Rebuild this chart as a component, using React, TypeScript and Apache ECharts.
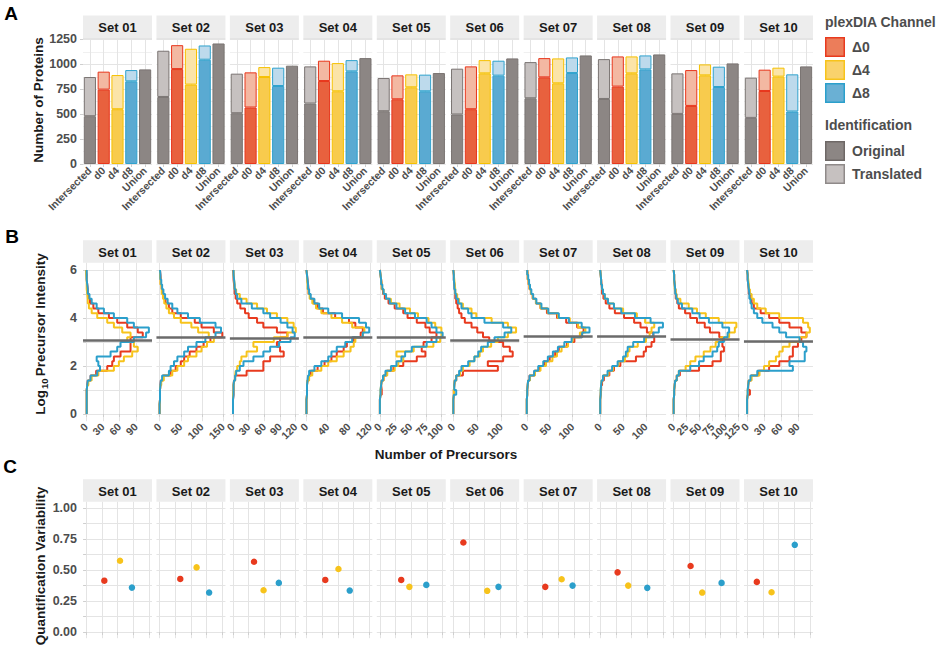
import React, { useEffect, useRef } from 'react';
import * as echarts from 'echarts';

const FONT = '"Liberation Sans", Arial, Helvetica, sans-serif';

// ---------- Panel A: number of proteins ----------
const setNames = ['Set 01', 'Set 02', 'Set 03', 'Set 04', 'Set 05', 'Set 06', 'Set 07', 'Set 08', 'Set 09', 'Set 10'];
const protCategories = ['Intersected', 'd0', 'd4', 'd8', 'Union'];
const intersectedTotal = [873, 1137, 907, 980, 863, 957, 1023, 1053, 910, 867];
const intersectedOrig = [480, 673, 510, 607, 530, 497, 660, 653, 503, 463];
const d0Total = [927, 1193, 920, 1037, 890, 980, 1063, 1080, 943, 947];
const d0Orig = [747, 953, 567, 833, 650, 550, 870, 777, 583, 733];
const d4Total = [893, 1157, 973, 1013, 900, 1043, 1060, 1080, 1000, 967];
const d4Orig = [550, 797, 873, 730, 770, 910, 810, 910, 890, 877];
const d8Total = [943, 1190, 967, 1043, 897, 1037, 1070, 1090, 977, 900];
const d8Orig = [830, 1047, 783, 930, 730, 887, 913, 950, 773, 527];
const unionTotal = [950, 1210, 987, 1063, 913, 1060, 1090, 1100, 1010, 980];

// ---------- Panel B: precursor intensity histograms (bins of 0.2 log10 units from 0) ----------
const BIN_W = 0.2;
const histD0 = [
  [1,1,1,1,1,2,3,8,18,38,47,50,62,80,80,80,102,93,74,56,41,22,13,7,5,3,2,1,1,0],
  [0,0,1,1,1,2,3,8,26,38,50,58,71,87,104,120,148,128,99,83,50,30,22,14,9,7,5,3,2,1],
  [0,0,0,1,1,1,2,4,26,58,58,71,97,90,84,90,104,84,58,46,30,23,14,8,5,3,2,1,1,0],
  [0,0,0,1,1,1,2,4,8,21,34,47,57,70,76,89,102,106,92,80,54,31,21,13,7,4,3,2,1,0],
  [0,0,0,1,3,2,3,6,11,22,38,60,74,68,71,84,92,81,74,60,45,38,24,14,8,5,3,2,1,0],
  [0,0,0,1,1,2,3,6,20,93,72,104,124,118,104,75,62,50,38,24,17,12,9,6,4,3,2,1,1,0],
  [0,0,0,1,1,2,3,6,17,28,38,50,62,70,88,104,120,124,110,86,66,44,30,20,13,9,6,4,2,1],
  [0,0,0,1,2,2,4,8,20,30,44,78,95,100,112,118,116,102,88,74,52,32,20,12,7,4,3,2,1,0],
  [0,0,0,1,1,2,3,6,12,49,75,91,91,97,94,94,88,70,60,45,32,22,10,7,4,3,2,1,1,0],
  [0,0,0,1,5,2,3,7,20,39,57,75,81,81,90,96,105,96,75,57,39,24,12,8,5,3,2,1,1,0],
];
const histD4 = [
  [1,1,1,1,1,2,4,10,22,50,59,68,83,93,86,74,80,65,50,38,20,10,5,3,2,1,1,1,0,0],
  [0,0,1,1,1,2,4,10,30,42,58,67,87,99,112,128,116,91,75,50,34,22,16,11,8,5,4,2,1,1],
  [0,0,0,0,1,1,2,4,5,8,13,16,26,46,39,78,104,120,116,104,84,65,46,26,13,6,3,2,1,1],
  [0,0,0,1,1,1,2,5,11,28,41,57,70,83,89,92,106,109,86,67,47,28,18,11,6,4,2,1,1,0],
  [0,0,0,1,1,2,3,6,12,24,30,38,27,55,87,98,100,100,90,79,62,49,32,18,10,6,3,2,1,0],
  [0,0,0,1,1,2,3,6,14,20,34,44,55,62,79,93,114,131,114,80,48,38,20,12,8,4,3,2,1,0],
  [0,0,0,1,1,2,3,7,18,30,42,56,66,76,90,100,116,128,112,94,68,46,30,20,13,9,6,4,2,1],
  [0,0,0,1,1,2,3,6,18,28,40,54,60,64,82,100,108,112,118,98,80,50,30,17,10,6,4,2,1,0],
  [0,0,0,1,1,2,3,6,10,23,32,42,58,71,81,91,107,118,121,87,62,45,29,13,6,4,2,1,1,0],
  [0,0,0,1,1,2,3,8,22,30,39,51,57,63,75,93,105,111,108,99,57,33,18,12,8,5,3,2,1,0],
];
const histD8 = [
  [1,1,1,1,1,2,3,8,20,25,22,19,44,56,62,86,108,113,86,74,50,32,19,10,6,3,2,1,1,1],
  [0,0,1,1,1,2,3,6,22,26,34,42,58,67,87,108,132,145,132,95,67,42,30,19,13,9,6,4,2,1],
  [0,0,0,1,1,1,2,4,6,13,20,39,58,71,88,110,118,114,104,91,71,58,36,16,8,5,3,2,1,1],
  [0,0,0,1,1,1,2,3,5,15,28,41,47,57,73,86,106,118,112,99,67,41,24,15,8,5,3,2,1,0],
  [0,0,0,1,1,2,3,5,9,18,27,35,41,52,76,92,102,92,84,76,57,41,27,16,10,6,4,2,1,0],
  [0,0,0,1,6,2,3,6,12,17,31,44,52,58,72,86,107,121,104,65,38,31,17,10,6,4,2,1,1,0],
  [0,0,0,1,1,2,3,6,16,25,36,46,57,68,82,98,121,137,120,92,70,47,32,21,14,10,7,5,3,1],
  [0,0,0,1,1,2,3,6,16,26,38,50,56,60,72,96,116,128,137,110,76,46,30,17,10,6,4,2,1,0],
  [0,0,0,1,1,2,3,6,10,32,49,58,75,84,87,97,104,107,94,68,50,36,16,8,5,3,2,1,1,0],
  [0,0,0,1,1,2,3,6,18,81,75,102,102,105,99,93,69,57,45,27,18,12,8,6,4,3,2,1,1,0],
];
const medianLog10 = [3.08, 3.18, 3.15, 3.18, 3.18, 3.08, 3.25, 3.22, 3.11, 3.04];
const precursorTicks = [
  [0, 30, 60, 90], [0, 50, 100, 150], [0, 30, 60, 90, 120], [0, 40, 80, 120], [0, 25, 50, 75, 100],
  [0, 50, 100], [0, 50, 100], [0, 50, 100], [0, 25, 50, 75, 100, 125], [0, 30, 60, 90],
];
const intensityTicks = [0, 2, 4, 6];
const intensityGrid = [0, 1, 2, 3, 4, 5, 6];

// ---------- Panel C: quantification variability ----------
const cvD0X = [0.29, 0.33, 0.335, 0.30, 0.34, 0.16, 0.295, 0.277, 0.27, 0.155];
const cvD0 = [0.414, 0.428, 0.567, 0.42, 0.42, 0.722, 0.364, 0.481, 0.532, 0.404];
const cvD4X = [0.54, 0.59, 0.487, 0.51, 0.47, 0.54, 0.556, 0.446, 0.455, 0.39];
const cvD4 = [0.575, 0.521, 0.337, 0.508, 0.364, 0.332, 0.425, 0.374, 0.318, 0.321];
const cvD8X = [0.73, 0.79, 0.73, 0.69, 0.74, 0.72, 0.73, 0.75, 0.764, 0.76];
const cvD8 = [0.358, 0.318, 0.396, 0.334, 0.38, 0.364, 0.374, 0.356, 0.396, 0.703];
const cvTicks = [0, 0.25, 0.5, 0.75, 1];
const cvGrid = [0, 0.125, 0.25, 0.375, 0.5, 0.625, 0.75, 0.875, 1];
const cvXGrid = [0, 0.25, 0.5, 0.75, 1];

// ---------- styling ----------
const RED = '#E83A1E';
const YEL = '#F7C31B';
const BLU = '#2B9FCB';
const catFillOrig = ['#8C8684', '#E8613E', '#F8CB4D', '#5AAAD2', '#8C8684'];
const catFillTrans = ['#C6C1C0', '#F3B8A2', '#FBE4A8', '#BDDAEC', '#C6C1C0'];
const catBorder = ['#7A7472', '#E8361C', '#F6C100', '#2FA2CD', '#7A7472'];
const GRID_COL = '#E4E4E4';
const MINOR_COL = '#F0F0F0';
const LABEL_COL = '#4D4D4D';
const TITLE_COL = '#1A1A1A';
const STRIP_FILL = '#EDEDED';

const L0 = 83;
const PITCH = 73.44;
const PW = 69;
const STRIP_H = 22.5;
const A_TOP = 38, A_H = 126;
const B_TOP = 262.8, B_H = 158.4;
const C_TOP = 501.8, C_H = 136.4;

function stepPoints(counts: number[]) {
  const pts: number[][] = [];
  counts.forEach((c, i) => {
    pts.push([c, i * BIN_W]);
    pts.push([c, (i + 1) * BIN_W]);
  });
  return pts;
}

function txt(text: string, x: number, y: number, size: number, opts: any = {}) {
  return {
    type: 'text',
    x, y,
    rotation: opts.rotation || 0,
    silent: true,
    style: {
      text,
      fill: opts.fill || TITLE_COL,
      fontSize: size,
      fontWeight: opts.weight || 'bold',
      fontFamily: FONT,
      align: opts.align || 'center',
      verticalAlign: 'middle',
      rich: opts.rich,
    },
  };
}

function buildOption() {
  const grid: any[] = [];
  const xAxis: any[] = [];
  const yAxis: any[] = [];
  const series: any[] = [];
  const graphic: any[] = [];

  const lbl = { color: LABEL_COL, fontWeight: 'bold', fontFamily: FONT, hideOverlap: false };
  const split = { show: true, lineStyle: { color: GRID_COL, width: 1 } };
  const tick = { length: 3, lineStyle: { color: '#CFCFCF' } };

  const strip = (left: number, top: number, name: string) => {
    graphic.push({ type: 'rect', silent: true, shape: { x: left, y: top - STRIP_H, width: PW, height: STRIP_H }, style: { fill: STRIP_FILL } });
    graphic.push(txt(name, left + PW / 2, top - STRIP_H / 2 + 0.5, 13));
  };

  const totals = [intersectedTotal, d0Total, d4Total, d8Total, unionTotal];
  const origs = [intersectedOrig, d0Orig, d4Orig, d8Orig, unionTotal];

  for (let k = 0; k < 10; k++) {
    const left = L0 + PITCH * k;

    // ---- A ----
    let gi = grid.length;
    let xi = xAxis.length;
    let yi = yAxis.length;
    grid.push({ left, top: A_TOP, width: PW, height: A_H });
    xAxis.push({
      type: 'category', gridIndex: gi, data: protCategories,
      axisLine: { show: false },
      axisTick: { show: true, alignWithLabel: true, ...tick },
      axisLabel: { ...lbl, rotate: 45, fontSize: 10.5, margin: 5, interval: 0 },
      splitLine: { ...split, alignWithLabel: true, interval: 0 },
    });
    yAxis.push({
      type: 'value', gridIndex: gi, min: 0, max: 1265, interval: 250,
      axisLine: { show: false },
      axisTick: { show: k === 0, ...tick },
      axisLabel: { show: k === 0, ...lbl, fontSize: 12.5, margin: 6, showMaxLabel: false, formatter: (v: number) => String(v) },
      splitLine: split,
      minorTick: { show: false, splitNumber: 2 },
      minorSplitLine: { show: true, lineStyle: { color: MINOR_COL } },
    });
    series.push({
      type: 'bar', name: 'Original', xAxisIndex: xi, yAxisIndex: yi, stack: 'p' + k, barWidth: '88%',
      data: protCategories.map((_, c) => ({
        value: origs[c][k],
        itemStyle: { color: catFillOrig[c], borderColor: catBorder[c], borderWidth: 1 },
      })),
    });
    series.push({
      type: 'bar', name: 'Translated', xAxisIndex: xi, yAxisIndex: yi, stack: 'p' + k, barWidth: '88%',
      data: protCategories.map((_, c) => ({
        value: totals[c][k] - origs[c][k],
        itemStyle: { color: catFillTrans[c], borderColor: catBorder[c], borderWidth: c === 4 ? 0 : 1 },
      })),
    });
    strip(left, A_TOP, setNames[k]);

    // ---- B ----
    gi = grid.length;
    xi = xAxis.length;
    yi = yAxis.length;
    grid.push({ left, top: B_TOP, width: PW, height: B_H });
    const M = Math.max(...histD0[k], ...histD4[k], ...histD8[k]);
    const ticksK = precursorTicks[k];
    const evenTicks = ticksK.filter((_, i) => i % 2 === 0);
    const oddTicks = ticksK.filter((_, i) => i % 2 === 1);
    xAxis.push({
      type: 'value', gridIndex: gi, min: -0.05 * M, max: 1.05 * M, position: 'bottom',
      axisLine: { show: false },
      axisTick: { show: true, customValues: ticksK, ...tick },
      axisLabel: {
        ...lbl, customValues: evenTicks, rotate: 45, fontSize: 10.5, margin: 4,
        showMinLabel: true, showMaxLabel: true,
      },
      splitLine: split,
    });
    xAxis.push({
      type: 'value', gridIndex: gi, min: -0.05 * M, max: 1.05 * M, position: 'bottom', offset: 0,
      axisLine: { show: false },
      axisTick: { show: false, customValues: oddTicks },
      axisLabel: {
        ...lbl, customValues: oddTicks, rotate: 45, fontSize: 10.5, margin: 4,
        showMinLabel: true, showMaxLabel: true,
      },
      splitLine: { show: false },
    });
    yAxis.push({
      type: 'value', gridIndex: gi, min: -0.3, max: 6.3,
      axisLine: { show: false },
      axisTick: { show: k === 0, customValues: intensityGrid, ...tick },
      axisLabel: { show: k === 0, customValues: intensityTicks, ...lbl, fontSize: 12.5, margin: 6 },
      splitLine: split,
    });
    const chans: [number[][], string][] = [[histD0, RED], [histD4, YEL], [histD8, BLU]];
    chans.forEach(([h, col], ci) => {
      series.push({
        type: 'line', xAxisIndex: xi, yAxisIndex: yi, data: stepPoints(h[k]),
        showSymbol: false, symbol: 'none', silent: true,
        lineStyle: { color: col, width: 2 },
        markLine: ci === 2 ? {
          silent: true, symbol: ['none', 'none'], label: { show: false },
          lineStyle: { color: '#6B6B6B', width: 2.5, type: 'solid' },
          data: [{ yAxis: medianLog10[k] }],
        } : undefined,
      });
    });
    strip(left, B_TOP, setNames[k]);

    // ---- C ----
    gi = grid.length;
    xi = xAxis.length;
    yi = yAxis.length;
    grid.push({ left, top: C_TOP, width: PW, height: C_H });
    xAxis.push({
      type: 'value', gridIndex: gi, min: -0.05, max: 1.05,
      axisLine: { show: false },
      axisTick: { show: true, customValues: cvXGrid, ...tick },
      axisLabel: { show: false },
      splitLine: split,
    });
    yAxis.push({
      type: 'value', gridIndex: gi, min: -0.05, max: 1.05,
      axisLine: { show: false },
      axisTick: { show: k === 0, customValues: cvGrid, ...tick },
      axisLabel: { show: k === 0, customValues: cvTicks, ...lbl, fontSize: 12.5, margin: 6, formatter: (v: number) => v.toFixed(2) },
      splitLine: split,
    });
    const pts: [number[], number[], string][] = [[cvD0X, cvD0, RED], [cvD4X, cvD4, YEL], [cvD8X, cvD8, BLU]];
    pts.forEach(([xs, ys, col]) => {
      series.push({
        type: 'scatter', xAxisIndex: xi, yAxisIndex: yi, data: [[xs[k], ys[k]]],
        symbolSize: 6.5, itemStyle: { color: col, opacity: 1 }, silent: true,
      });
    });
    strip(left, C_TOP, setNames[k]);
  }

  // panel letters
  graphic.push(txt('A', 11, 13, 19, { fill: '#000' }));
  graphic.push(txt('B', 12, 236, 19, { fill: '#000' }));
  graphic.push(txt('C', 10, 466, 19, { fill: '#000' }));

  // axis titles
  graphic.push(txt('Number of Proteins', 38, 100, 13.5, { rotation: Math.PI / 2 }));
  graphic.push(txt('{a|Log}{s|10}{a|Precursor Intensity}', 40, 334, 13.5, {
    rotation: Math.PI / 2,
    rich: {
      a: { fontSize: 13.5, fontWeight: 'bold', fontFamily: FONT, fill: TITLE_COL },
      s: { fontSize: 9.5, fontWeight: 'bold', fontFamily: FONT, fill: TITLE_COL, padding: [8, 2, 0, 1] },
    },
  }));
  graphic.push(txt('Number of Precursors', 446, 454, 13.5));
  graphic.push(txt('Quantification Variability', 40, 566, 13.5, { rotation: Math.PI / 2 }));

  // legend
  const LX = 825;
  graphic.push(txt('plexDIA Channel', LX, 22, 14, { align: 'left', fill: LABEL_COL }));
  const chLegend: [string, string, string, number][] = [
    ['Δ0', '#EC7D5A', RED, 37], ['Δ4', '#F9D26C', YEL, 60], ['Δ8', '#6AB0D4', BLU, 83],
  ];
  chLegend.forEach(([t, f, s, y]) => {
    graphic.push({ type: 'rect', silent: true, shape: { x: LX + 0.75, y: y + 0.75, width: 18.5, height: 18.5 }, style: { fill: f, stroke: s, lineWidth: 1.5 } });
    graphic.push(txt(t, 852, y + 10, 14, { align: 'left', fill: LABEL_COL }));
  });
  graphic.push(txt('Identification', LX, 125, 14, { align: 'left', fill: LABEL_COL }));
  const idLegend: [string, string, string, number][] = [
    ['Original', '#8C8684', '#6E6866', 141], ['Translated', '#C6C1C0', '#8F8A89', 164],
  ];
  idLegend.forEach(([t, f, s, y]) => {
    graphic.push({ type: 'rect', silent: true, shape: { x: LX + 0.75, y: y + 0.75, width: 18.5, height: 18.5 }, style: { fill: f, stroke: s, lineWidth: 1.5 } });
    graphic.push(txt(t, 852, y + 10, 14, { align: 'left', fill: LABEL_COL }));
  });

  return {
    animation: false,
    backgroundColor: '#ffffff',
    textStyle: { fontFamily: FONT },
    grid, xAxis, yAxis, series, graphic,
  };
}

export default function App() {
  const ref = useRef<HTMLDivElement>(null);
  useEffect(() => {
    const chart = echarts.init(ref.current!, null, { renderer: 'svg' });
    chart.setOption(buildOption() as any);
    return () => chart.dispose();
  }, []);
  return (
    <div
      ref={ref}
      style={{ position: 'fixed', left: 0, top: 0, width: 939, height: 646, background: '#fff' }}
    />
  );
}
